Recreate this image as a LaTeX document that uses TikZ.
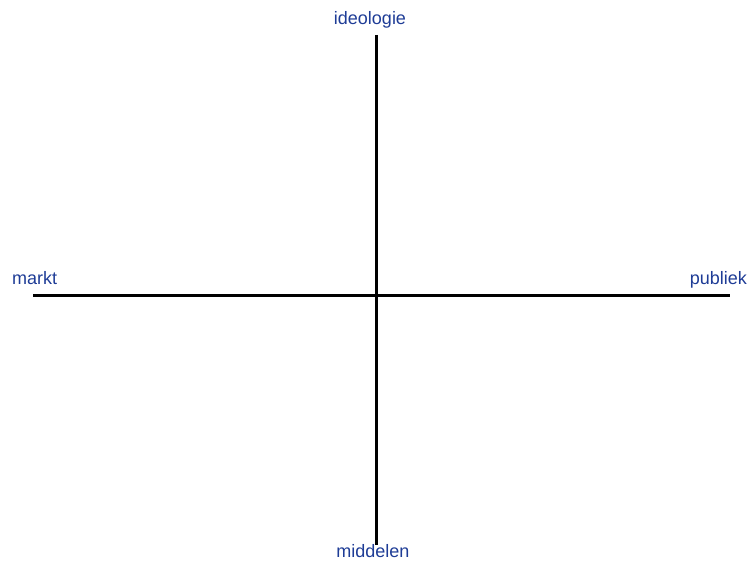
\documentclass[tikz,border=0pt]{standalone}
\usepackage{fontspec}
\setmainfont{Liberation Sans}
\definecolor{lblue}{RGB}{30,60,150}
\tikzset{
  axis/.style={line width=3pt, black},
  lbl/.style={text=lblue, font=\fontsize{18}{20}\selectfont, inner sep=0pt, anchor=base}
}
\begin{document}
\begin{tikzpicture}[x=1pt,y=1pt]
\useasboundingbox (0,0) rectangle (748,561);
\coordinate (top) at (376,526);
\coordinate (bot) at (376,16);
\coordinate (left) at (33,265);
\coordinate (right) at (730,265);
\draw[axis] (left) -- (right);
\draw[axis] (top) -- (bot);
\node[lbl] (ideo) at (370,536) {ideologie};
\node[lbl] (midd) at (373,3.5) {middelen};
\node[lbl, anchor=base west] (markt) at (12,276) {markt};
\node[lbl, anchor=base east] (publ) at (747,276.5) {publiek};
\end{tikzpicture}
\end{document}
